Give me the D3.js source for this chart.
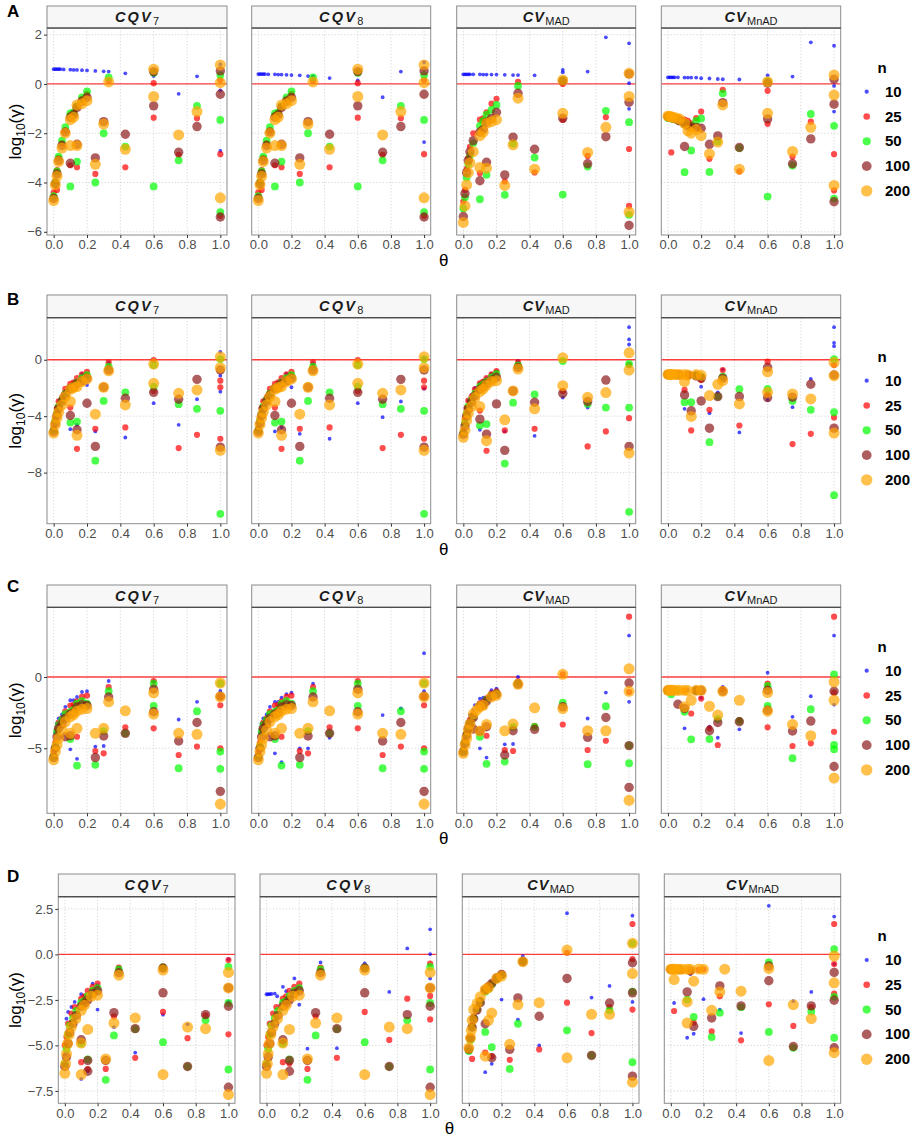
<!DOCTYPE html>
<html><head><meta charset="utf-8">
<script src="https://cdn.jsdelivr.net/npm/d3@7"></script>
<style>
body{margin:0;background:#fff;}
svg{font-family:"Liberation Sans",Arial,Helvetica,sans-serif;}
</style></head><body>
<svg id="chart" width="913" height="1137"></svg>
<script>
// ---------------- DATA ----------------
const nLevels = ["10","25","50","100","200"];
const facetTitles = [["CQV","7"],["CQV","8"],["CV","MAD"],["CV","MnAD"]];
const rowLabels = ["A","B","C","D"];
const thetaTicks = [0,0.2,0.4,0.6,0.8,1.0];
const yTicksA = [2,0,-2,-4,-6];
const yTicksB = [0,-4,-8];
const yTicksC = [0,-5];
const yTicksD = [2.5,0,-2.5,-5,-7.5];

// each panel: [n=10, n=25, n=50, n=100, n=200], points are [theta, log10(gamma)]
const A_CQV7 = [
 [[0,.6],[.01,.6],[.02,.6],[.03,.6],[.04,.6],[.06,.59],[.1,.58],[.12,.57],[.14,.57],[.17,.56],[.2,.55],[.25,.53],[.3,.51],[.33,.5],[.43,.43],[.6,.32],[.75,-.4],[.86,.31],[1,-2.72],[1,-.26],[1,.8]],
 [[0,-4.4],[.01,-3.95],[.02,-3.5],[.03,-3.0],[.05,-2.4],[.07,-1.9],[.1,-1.25],[.12,-1.15],[.14,-.95],[.17,-.6],[.2,-.4],[.02,-4.3],[.1,-3.3],[.14,-3.38],[.25,-3.65],[.33,.12],[.43,-3.38],[.6,.03],[.6,-1.37],[.75,-2.88],[.86,-1.39],[1,.16],[1,-2.85],[1,-5.35]],
 [[0,-4.55],[.01,-4.0],[.02,-3.55],[.03,-2.95],[.05,-2.3],[.07,-1.75],[.1,-1.2],[.12,-1.15],[.14,-.9],[.17,-.55],[.2,-.3],[.1,-4.16],[.14,-3.15],[.25,-4.0],[.3,-2.0],[.33,.27],[.43,-2.54],[.6,.45],[.6,-4.16],[.75,-3.1],[.86,-.89],[1,.36],[1,-1.46],[1,-5.2]],
 [[0,-4.65],[.01,-4.05],[.02,-3.65],[.03,-3.1],[.05,-2.5],[.07,-1.95],[.1,-1.35],[.12,-1.25],[.14,-.95],[.17,-.7],[.2,-.55],[.1,-3.22],[.14,-2.45],[.25,-3.0],[.3,-1.53],[.43,-2.04],[.6,.5],[.6,-.89],[.75,-2.77],[.86,-1.73],[1,.53],[1,-.42],[1,-5.4]],
 [[0,-4.73],[.01,-4.1],[.02,-3.75],[.03,-3.15],[.05,-2.6],[.07,-2.0],[.1,-1.45],[.12,-1.35],[.14,-.85],[.17,-.8],[.2,-.68],[.1,-2.5],[.14,-2.5],[.25,-3.26],[.3,-1.63],[.33,.08],[.43,-2.65],[.6,.6],[.6,-.51],[.75,-2.07],[.86,-1.12],[1,.77],[1,.05],[1,-4.62]]
];
const A_CQV8_n10 = [[0,.4],[.01,.4],[.02,.4],[.03,.4],[.04,.4],[.06,.39],[.1,.39],[.12,.38],[.14,.38],[.17,.37],[.2,.36],[.25,.35],[.3,.32],[.33,.31],[.43,.24],[.6,.14],[.75,-.54],[.86,.5],[1,.88],[1,-2.36],[1,.6]];
const A_MAD = [
 [[0,.39],[.01,.39],[.02,.39],[.03,.39],[.04,.39],[.06,.39],[.1,.39],[.12,.38],[.14,.38],[.17,.38],[.2,.38],[.25,.37],[.3,.36],[.33,.36],[.43,.35],[.6,.57],[.6,.47],[.75,.5],[.86,1.89],[1,1.65],[1,.03],[1,-1.01]],
 [[0,-4.77],[.01,-4.3],[.02,-3.45],[.03,-3.0],[.04,-2.55],[.06,-2.0],[.1,-1.45],[.12,-1.4],[.14,-1.15],[.17,-.8],[.2,-.6],[.33,.08],[.1,-3.62],[.25,-3.96],[.43,-3.59],[.6,0],[.6,-1.46],[.75,-2.92],[.86,-1.35],[1,-2.64],[1,-4.95]],
 [[0,-5.05],[.01,-4.6],[.02,-3.8],[.03,-3.25],[.04,-2.9],[.06,-2.4],[.1,-1.7],[.12,-1.5],[.14,-1.25],[.17,-1.05],[.2,-.85],[.33,-.08],[.1,-4.68],[.14,-3.69],[.25,-4.5],[.3,-2.43],[.43,-2.99],[.6,.14],[.6,-4.49],[.75,-3.35],[.86,-1.09],[1,-1.55],[1,-5.31]],
 [[0,-5.38],[.01,-4.45],[.02,-3.6],[.03,-3.1],[.04,-2.75],[.06,-2.3],[.1,-1.95],[.12,-1.85],[.14,-1.55],[.17,-1.4],[.2,-1.15],[.33,-.38],[.1,-3.93],[.14,-3.18],[.25,-3.69],[.3,-2.16],[.43,-2.65],[.6,.12],[.6,-1.39],[.75,-3.24],[.86,-2.14],[1,.41],[1,-.74],[1,-5.74]],
 [[0,-5.62],[.01,-4.95],[.02,-4.1],[.03,-3.6],[.04,-3.2],[.06,-2.75],[.1,-2.1],[.12,-1.95],[.14,-1.6],[.17,-1.53],[.2,-1.45],[.33,-.58],[.1,-3.39],[.14,-3.42],[.25,-4.12],[.3,-2.47],[.43,-3.46],[.6,.16],[.6,-1.19],[.75,-2.78],[.86,-1.76],[1,.43],[1,-.51],[1,-5.2]]
];
const A_MnAD = [
 [[0,.27],[.01,.27],[.02,.27],[.03,.27],[.04,.27],[.06,.27],[.1,.26],[.12,.26],[.14,.26],[.17,.26],[.2,.23],[.25,.22],[.3,.2],[.33,.19],[.43,.18],[.6,.35],[.75,.3],[.86,1.69],[1,1.55],[1,-.08],[1,-1.12]],
 [[0,-1.3],[.01,-1.31],[.02,-1.32],[.03,-1.33],[.05,-1.36],[.07,-1.4],[.1,-1.45],[.12,-1.5],[.14,-1.6],[.17,-1.39],[.2,-1.12],[.02,-2.78],[.25,-3.04],[.33,-.24],[.43,-3.55],[.6,-.28],[.6,-1.62],[.75,-2.95],[.86,-1.53],[1,-2.85],[1,-4.32]],
 [[0,-1.38],[.01,-1.39],[.02,-1.4],[.03,-1.42],[.05,-1.45],[.07,-1.5],[.1,-1.6],[.12,-1.65],[.14,-1.7],[.17,-1.5],[.2,-1.4],[.1,-3.58],[.14,-2.7],[.25,-3.57],[.3,-2.34],[.33,-.38],[.43,-2.6],[.6,.1],[.6,-4.57],[.75,-3.31],[.86,-1.22],[1,-1.7],[1,-4.65]],
 [[0,-1.33],[.01,-1.35],[.02,-1.36],[.03,-1.38],[.05,-1.42],[.07,-1.5],[.1,-1.6],[.12,-1.7],[.14,-1.75],[.17,-1.77],[.2,-1.8],[.1,-2.54],[.25,-2.45],[.3,-2.11],[.33,-.76],[.43,-2.58],[.6,.03],[.6,-1.42],[.75,-3.24],[.86,-2.23],[1,.19],[1,-.82],[1,-4.78]],
 [[0,-1.3],[.01,-1.32],[.02,-1.33],[.03,-1.35],[.05,-1.38],[.07,-1.42],[.1,-1.6],[.12,-1.9],[.14,-2.0],[.17,-1.85],[.2,-2.1],[.25,-2.84],[.3,-2.36],[.33,-.85],[.43,-3.46],[.6,.09],[.6,-1.19],[.75,-2.74],[.86,-1.76],[1,.36],[1,-.45],[1,-4.12]]
];

const B_CQV7 = [
 [[0,-5.0],[.01,-4.4],[.02,-3.8],[.03,-3.2],[.05,-2.6],[.07,-2.2],[.12,-1.6],[.17,-1.0],[.2,-1.79],[.1,-4.92],[.14,-4.61],[.25,-5.08],[.33,-.2],[.43,-5.51],[.6,-3.08],[.75,-4.61],[.86,-2.8],[1,.56],[1,-1.13],[1,-2.26]],
 [[0,-4.85],[.01,-4.14],[.02,-3.44],[.03,-2.95],[.05,-2.68],[.07,-2.07],[.1,-1.7],[.12,-1.6],[.14,-1.3],[.17,-1.04],[.2,-.85],[.1,-3.39],[.14,-6.31],[.25,-4.89],[.33,-.19],[.43,-4.8],[.6,-.02],[.6,-2.21],[.75,-6.26],[.86,-5.32],[1,-1.48],[1,-1.95],[1,-5.6]],
 [[0,-5.0],[.01,-4.35],[.02,-3.8],[.03,-3.3],[.05,-2.85],[.07,-2.4],[.1,-2.0],[.12,-1.85],[.14,-1.6],[.17,-1.3],[.2,-1.1],[.1,-4.45],[.14,-4.38],[.25,-7.15],[.3,-2.92],[.33,-.49],[.43,-2.31],[.6,-.38],[.6,-1.9],[.75,-3.15],[.86,-3.48],[1,.05],[1,-3.62],[1,-10.92]],
 [[0,-5.1],[.01,-4.5],[.02,-3.95],[.03,-3.45],[.05,-2.95],[.07,-2.5],[.1,-2.05],[.12,-1.95],[.14,-1.7],[.17,-1.5],[.2,-1.3],[.1,-3.95],[.14,-4.96],[.2,-3.08],[.25,-6.14],[.3,-1.95],[.33,-.73],[.43,-2.73],[.6,-2.31],[.75,-2.8],[.86,-1.39],[1,-.73],[1,-6.19]],
 [[0,-5.2],[.01,-4.6],[.02,-4.14],[.03,-3.72],[.05,-3.2],[.07,-2.61],[.1,-2.1],[.12,-1.98],[.14,-1.9],[.17,-1.55],[.2,-1.36],[.1,-2.96],[.14,-5.36],[.25,-3.86],[.3,-1.95],[.33,-.78],[.43,-3.2],[.6,-.31],[.6,-1.67],[.75,-2.38],[.86,-2.14],[1,.21],[1,-.56],[1,-6.42]]
];
const B_CQV8_n10 = [[0,-5.0],[.01,-4.4],[.02,-3.8],[.03,-3.2],[.05,-2.6],[.07,-2.2],[.12,-1.6],[.17,-1.0],[.2,-1.95],[.1,-5.08],[.14,-4.8],[.25,-5.25],[.33,-.25],[.43,-5.6],[.6,-3.08],[.75,-4.07],[.86,-2.96],[1,.1],[1,-2.05]];
const B_MAD = [
 [[0,-5.0],[.01,-4.2],[.02,-3.5],[.03,-2.9],[.05,-2.5],[.07,-2.0],[.1,-1.65],[.12,-1.5],[.14,-1.3],[.17,-1.0],[.2,-.8],[.33,-.1],[.1,-4.96],[.25,-5.08],[.43,-5.39],[.6,-2.68],[.75,-3.39],[1,2.31],[1,1.44],[1,1.08]],
 [[0,-5.08],[.01,-4.14],[.02,-3.4],[.03,-2.9],[.05,-2.61],[.07,-2.09],[.1,-1.67],[.12,-1.55],[.14,-1.3],[.17,-1.04],[.2,-.8],[.33,-.19],[.1,-3.6],[.14,-6.45],[.25,-5.01],[.43,-4.89],[.6,-2.21],[.75,-6.14],[.86,-5.08],[1,-.38],[1,-4.14]],
 [[0,-5.2],[.01,-4.5],[.02,-3.8],[.03,-3.3],[.05,-2.85],[.07,-2.4],[.1,-1.9],[.12,-1.75],[.14,-1.55],[.17,-1.25],[.2,-1.0],[.33,-.4],[.1,-4.66],[.14,-4.56],[.25,-7.36],[.3,-3.04],[.43,-2.45],[.6,-.09],[.75,-3.13],[.86,-3.39],[1,-.3],[1,-3.39],[1,-10.78]],
 [[0,-5.3],[.01,-4.7],[.02,-4.0],[.03,-3.5],[.05,-3.0],[.07,-2.55],[.1,-2.1],[.12,-1.95],[.14,-1.7],[.17,-1.45],[.2,-1.25],[.33,-.55],[.1,-4.21],[.14,-5.27],[.2,-3.13],[.25,-6.42],[.3,-2.21],[.43,-3.01],[.6,-2.38],[.75,-2.96],[.86,-1.44],[1,-6.14]],
 [[0,-5.5],[.01,-5.0],[.02,-4.3],[.03,-3.8],[.05,-3.3],[.07,-2.68],[.1,-2.25],[.12,-2.07],[.14,-1.8],[.17,-1.55],[.2,-1.48],[.33,-.66],[.1,-3.32],[.14,-5.74],[.25,-4.26],[.3,-2.21],[.43,-3.48],[.6,.14],[.6,-1.84],[.75,-2.66],[.86,-2.33],[1,.49],[1,-.73],[1,-6.61]]
];
const B_MnAD = [
 [[0,-1.1],[.02,-1.1],[.05,-1.1],[.1,-3.48],[.2,-1.91],[.25,-3.79],[.3,-2.31],[.33,-.7],[.43,-5.15],[.6,-2.85],[.75,-3.36],[.86,-1.36],[1,2.31],[1,1.2],[1,.96]],
 [[0,-1.04],[.01,-1.04],[.02,-1.04],[.03,-1.04],[.05,-1.05],[.07,-1.05],[.12,-1.1],[.14,-1.05],[.17,-1.1],[.2,-1.44],[.1,-2.14],[.14,-5.01],[.25,-3.55],[.33,-.73],[.43,-4.66],[.6,-.14],[.6,-2.45],[.75,-5.98],[.86,-5.25],[1,-.38],[1,-4.09]],
 [[0,-1.05],[.02,-1.05],[.05,-1.06],[.07,-1.07],[.17,-1.1],[.2,-1.2],[.1,-3.01],[.14,-3.01],[.25,-5.84],[.3,-2.61],[.33,-1.2],[.43,-2.09],[.6,-2.07],[.75,-2.92],[.86,-3.55],[1,.05],[1,-3.72],[1,-9.6]],
 [[0,-1.05],[.02,-1.05],[.05,-1.06],[.07,-1.07],[.12,-1.1],[.17,-1.15],[.2,-1.3],[.1,-2.49],[.14,-3.62],[.2,-2.92],[.25,-4.85],[.3,-2.61],[.33,-1.3],[.43,-2.61],[.6,-.54],[.6,-2.68],[.75,-2.66],[.86,-1.74],[1,-1.08],[1,-4.85]],
 [[0,-1.04],[.01,-1.04],[.02,-1.04],[.03,-1.04],[.05,-1.04],[.07,-1.05],[.1,-1.05],[.12,-1.08],[.17,-1.05],[.2,-1.1],[.1,-1.55],[.14,-4.02],[.25,-2.54],[.3,-1.74],[.33,-1.48],[.43,-3.13],[.6,-.85],[.6,-2.31],[.75,-2.42],[.86,-2.78],[1,-.19],[1,-1.13],[1,-5.2]]
];

const C_CQV7 = [
 [[0,-4.9],[.01,-3.9],[.02,-3.26],[.03,-2.9],[.05,-2.63],[.07,-2.09],[.1,-1.63],[.12,-1.63],[.14,-1.4],[.17,-1.05],[.2,-1.0],[.33,-.28],[.1,-5.07],[.14,-5.74],[.25,-4.88],[.3,-4.84],[.6,-.3],[.75,-2.98],[.86,-1.74],[1,-.98]],
 [[0,-5.3],[.01,-4.6],[.02,-3.7],[.03,-3.2],[.05,-2.9],[.07,-2.4],[.1,-2.0],[.12,-1.95],[.14,-1.7],[.17,-1.4],[.2,-1.3],[.14,-4.19],[.25,-5.19],[.3,-5.35],[.33,-.7],[.43,-3.53],[.6,-.28],[.6,-3.6],[.75,-5.47],[.86,-4.88],[1,-1.4],[1,-1.98],[1,-5.0]],
 [[0,-5.58],[.01,-4.88],[.02,-3.84],[.03,-3.37],[.05,-3.02],[.07,-2.6],[.1,-2.44],[.12,-2.3],[.14,-1.86],[.17,-1.7],[.2,-1.86],[.1,-4.35],[.14,-6.21],[.25,-6.16],[.3,-3.79],[.33,-1.0],[.43,-3.95],[.6,-.47],[.6,-2.02],[.75,-6.4],[.86,-2.4],[1,-.45],[1,-5.23],[1,-6.44]],
 [[0,-5.65],[.01,-5.0],[.02,-4.2],[.03,-3.6],[.05,-3.3],[.07,-2.9],[.1,-2.6],[.12,-2.5],[.14,-2.1],[.17,-1.95],[.2,-2.0],[.07,-4.19],[.1,-4.12],[.25,-5.65],[.3,-4.14],[.33,-1.4],[.43,-3.95],[.6,-.86],[.6,-2.44],[.75,-4.49],[.86,-3.19],[1,-1.35],[1,-8.02]],
 [[0,-5.81],[.01,-5.23],[.02,-4.77],[.03,-4.3],[.05,-3.72],[.07,-3.14],[.1,-2.79],[.12,-2.63],[.14,-2.4],[.17,-2.26],[.2,-2.21],[.1,-3.95],[.14,-3.6],[.25,-3.95],[.3,-3.6],[.33,-1.74],[.43,-2.37],[.6,-1.12],[.6,-2.6],[.75,-3.95],[.86,-4.02],[1,-.42],[1,-1.4],[1,-8.91]]
];
const C_CQV8_n10 = [[0,-4.9],[.01,-3.9],[.02,-3.26],[.03,-2.9],[.05,-2.63],[.07,-2.09],[.1,-1.75],[.12,-1.75],[.14,-1.45],[.17,-1.2],[.2,-1.1],[.33,-.47],[.1,-5.35],[.14,-5.98],[.25,-5.0],[.3,-5.0],[.43,-4.26],[.6,-.3],[.75,-2.67],[.86,-2.21],[1,1.67],[1,-1.0]];
const C_MAD = [
 [[0,-4.84],[.01,-4.2],[.02,-3.6],[.03,-3.1],[.04,-2.67],[.06,-2.3],[.07,-1.98],[.1,-1.51],[.12,-1.45],[.17,-.93],[.2,-.81],[.33,0],[.1,-5.0],[.14,-5.65],[.25,-4.72],[.3,-4.7],[.6,-1.9],[.75,-2.91],[.86,-1.09],[1,2.91],[1,-1.74]],
 [[0,-5.1],[.01,-4.5],[.02,-3.9],[.03,-3.4],[.04,-3.0],[.06,-2.6],[.1,-1.85],[.12,-1.75],[.14,-1.5],[.17,-1.15],[.2,-1.0],[.33,-.3],[.14,-4.12],[.25,-5.12],[.3,-5.19],[.43,-3.42],[.6,.19],[.6,-3.33],[.75,-5.12],[.86,-4.47],[1,4.23],[1,-1.05]],
 [[0,-5.2],[.01,-4.6],[.02,-4.0],[.03,-3.55],[.04,-3.2],[.06,-2.8],[.1,-2.0],[.12,-1.9],[.14,-1.6],[.17,-1.3],[.2,-1.15],[.33,-.45],[.1,-4.19],[.14,-6.09],[.25,-5.93],[.3,-3.5],[.43,-3.5],[.6,-1.79],[.75,-6.12],[.86,-2.05],[1,-4.81],[1,-6.05]],
 [[0,-5.25],[.01,-4.65],[.02,-4.1],[.03,-3.6],[.04,-3.25],[.06,-2.85],[.1,-2.05],[.12,-1.95],[.14,-1.7],[.17,-1.35],[.2,-1.2],[.33,-.5],[.06,-3.65],[.1,-3.79],[.14,-3.49],[.25,-5.47],[.3,-3.77],[.43,-3.67],[.6,-2.09],[.75,-4.23],[.86,-2.84],[1,-.42],[1,-4.81],[1,-7.74]],
 [[0,-5.35],[.01,-4.77],[.02,-4.3],[.03,-3.72],[.04,-3.3],[.06,-2.6],[.08,-2.33],[.1,-2.09],[.12,-1.98],[.17,-1.4],[.2,-1.28],[.33,-.51],[.1,-3.79],[.14,-3.33],[.25,-3.77],[.3,-3.3],[.43,-2.16],[.6,.19],[.6,-2.21],[.75,-3.77],[.86,-3.77],[1,.58],[1,-1.0],[1,-8.65]]
];
const C_MnAD = [
 [[0,-.9],[.05,-.9],[.1,-3.6],[.12,-.9],[.2,-1.47],[.25,-3.49],[.3,-4.26],[.33,-.7],[.43,-3.67],[.6,.3],[.75,-2.79],[.86,-1.35],[1,2.91],[1,-1.93]],
 [[0,-.9],[.02,-.9],[.05,-.92],[.1,-.95],[.17,-.95],[.14,-2.56],[.2,-1.51],[.25,-3.6],[.3,-4.77],[.33,-.86],[.43,-3.02],[.6,-.47],[.6,-3.53],[.75,-4.84],[.86,-4.65],[1,4.23],[1,-1.09],[1,-3.84]],
 [[0,-1.0],[.02,-1.21],[.05,-.95],[.1,-2.44],[.17,-.97],[.14,-4.37],[.25,-4.35],[.3,-2.95],[.43,-3.1],[.6,-.63],[.6,-2.02],[.75,-5.7],[.86,-2.26],[1,.19],[1,-4.77],[1,-5.07]],
 [[0,-.92],[.02,-.93],[.06,-1.91],[.1,-2.21],[.17,-.95],[.2,-.95],[.25,-3.77],[.3,-3.19],[.33,-1.0],[.43,-3.14],[.6,-.93],[.6,-2.33],[.75,-3.79],[.86,-3.09],[1,-1.0],[1,-6.28]],
 [[0,-.93],[.01,-.93],[.02,-.93],[.03,-.93],[.05,-.93],[.07,-.93],[.1,-.93],[.12,-.95],[.17,-.93],[.2,-.93],[.1,-2.09],[.14,-1.63],[.25,-2.05],[.3,-2.67],[.33,-1.0],[.43,-1.63],[.6,-1.09],[.6,-2.4],[.75,-3.33],[.86,-4.12],[1,-.35],[1,-1.63],[1,-7.09]]
];

const D_CQV7 = [
 [[.01,-3.53],[.02,-3.16],[.04,-2.89],[.06,-2.61],[.1,-2.19],[.12,-2.3],[.17,-1.6],[.2,-1.69],[0,-5.5],[.1,-6.84],[.14,-6.42],[.2,-3.03],[.3,-3.99],[.33,-.7],[.43,-5.4],[.6,-3.31],[.75,-3.84],[1,-.26],[1,-2.6]],
 [[0,-5.0],[.01,-4.54],[.02,-3.8],[.04,-3.25],[.06,-2.89],[.1,-2.43],[.12,-2.3],[.14,-2.0],[.17,-1.78],[.2,-1.6],[.1,-5.92],[.14,-6.3],[.25,-6.29],[.3,-3.4],[.33,-.72],[.43,-5.68],[.6,-.68],[.6,-3.16],[.75,-4.6],[.86,-3.35],[1,-.31],[1,-4.39]],
 [[0,-6.0],[.01,-5.2],[.02,-4.4],[.03,-3.9],[.05,-3.5],[.07,-3.1],[.1,-2.65],[.12,-2.55],[.14,-2.3],[.17,-2.0],[.2,-1.85],[.1,-4.9],[.14,-5.77],[.25,-6.89],[.3,-4.45],[.33,-.83],[.43,-4.1],[.6,-.72],[.6,-4.82],[.75,-6.16],[.86,-3.62],[1,-.68],[1,-2.67],[1,-6.32]],
 [[0,-6.16],[.01,-5.64],[.02,-4.9],[.03,-4.3],[.05,-3.8],[.07,-3.35],[.1,-2.85],[.12,-2.7],[.14,-2.5],[.17,-2.15],[.2,-2.0],[.1,-4.69],[.14,-5.83],[.14,-6.42],[.25,-5.83],[.3,-3.2],[.33,-1.01],[.43,-4.08],[.6,-.75],[.6,-2.11],[.75,-6.16],[.86,-3.31],[1,-1.84],[1,-2.85],[1,-7.3]],
 [[0,-6.53],[.005,-6.01],[.01,-5.46],[.016,-4.91],[.026,-4.41],[.04,-3.99],[.067,-3.53],[.1,-3.07],[.12,-2.79],[.16,-2.3],[.2,-2.24],[.1,-4.87],[.1,-6.6],[.14,-4.12],[.25,-5.74],[.3,-3.77],[.33,-1.14],[.43,-3.49],[.6,-.86],[.6,-6.6],[.75,-3.99],[.86,-4.08],[1,-.99],[1,-1.84],[1,-7.7]]
];
const D_CQV8_n10 = [[0,-2.19],[.01,-2.19],[.02,-2.18],[.03,-2.17],[.05,-2.15],[.065,-2.3],[.1,-1.78],[.12,-2.02],[.17,-1.32],[.2,-2.76],[.25,-5.18],[.33,-.44],[.43,-5.15],[.6,-.5],[.75,-2.06],[.86,.33],[1,1.38],[1,.02],[1,-1.32]];
const D_CQV8_n25 = [[0,-5.0],[.01,-4.54],[.02,-3.8],[.04,-3.25],[.06,-2.89],[.1,-2.43],[.12,-2.3],[.14,-2.0],[.17,-1.78],[.2,-1.6],[.1,-5.92],[.14,-6.0],[.25,-6.29],[.3,-3.4],[.33,-.72],[.43,-5.68],[.6,-.68],[.6,-3.16],[.75,-4.7],[.86,-2.43],[1,-.5],[1,-2.28],[1,-3.57]];
const D_MAD = [
 [[.02,-4.6],[.05,-3.2],[.1,-6.47],[.14,-6.01],[.2,-2.48],[.3,-3.58],[.33,-.1],[.43,-5.0],[.6,2.26],[.75,-2.37],[.86,-1.73],[1,2.13],[1,-2.61]],
 [[0,-5.3],[.01,-4.6],[.02,-3.9],[.03,-3.4],[.05,-2.9],[.07,-2.5],[.1,-2.0],[.12,-1.85],[.14,-1.6],[.17,-1.3],[.2,-1.05],[.33,-.35],[.02,-5.74],[.1,-5.4],[.14,-5.6],[.25,-5.79],[.43,-5.22],[.6,.09],[.6,-2.65],[.75,-4.32],[.86,-2.9],[1,1.67],[1,-.26],[1,-3.03]],
 [[0,-5.3],[.01,-4.7],[.02,-4.0],[.03,-3.5],[.05,-3.0],[.07,-2.6],[.1,-2.05],[.12,-1.9],[.14,-1.65],[.17,-1.35],[.2,-1.15],[.33,-.38],[.1,-4.26],[.14,-5.09],[.25,-6.29],[.3,-3.81],[.6,-4.17],[.75,-5.55],[.86,-3.07],[1,.61],[1,-2.05],[1,-5.92]],
 [[0,-5.2],[.01,-4.6],[.02,-4.0],[.03,-3.55],[.05,-3.05],[.07,-2.65],[.1,-1.95],[.12,-1.78],[.14,-1.6],[.17,-1.3],[.2,-1.1],[.33,-.4],[.1,-3.81],[.14,-5.68],[.25,-5.22],[.3,-2.39],[.43,-3.4],[.6,-1.32],[.75,-5.55],[.86,-2.67],[1,-.46],[1,-2.11],[1,-6.69]],
 [[0,-5.13],[.01,-4.58],[.015,-4.17],[.02,-3.62],[.03,-3.03],[.05,-2.7],[.07,-2.33],[.1,-1.93],[.12,-1.82],[.17,-1.32],[.2,-1.19],[.33,-.4],[.1,-5.59],[.12,-3.62],[.14,-3.22],[.25,-4.94],[.3,-2.76],[.43,-2.65],[.6,.24],[.6,-5.68],[.75,-3.29],[.86,-3.29],[1,.61],[1,-1.05],[1,-7.02]]
];
const D_MnAD = [
 [[0,-.8],[.02,-2.67],[.1,-4.58],[.12,-1.08],[.14,-4.36],[.2,-2.46],[.3,-3.03],[.43,-4.32],[.6,2.67],[.75,-2.57],[.86,-2.06],[1,2.08],[1,-.53]],
 [[0,-.81],[.03,-.82],[.05,-.85],[.07,-.9],[.12,-.95],[.17,-.85],[.2,-.82],[.02,-3.11],[.14,-3.75],[.25,-4.23],[.3,-2.3],[.43,-4.72],[.6,-2.74],[.75,-3.93],[.86,-2.9],[1,1.67],[1,-.53],[1,-2.15]],
 [[0,-.82],[.05,-.85],[.1,-2.48],[.14,-3.44],[.25,-4.54],[.3,-3.2],[.43,-2.9],[.6,-.44],[.6,-4.26],[.75,-5.13],[.86,-3.13],[1,.29],[1,-2.33],[1,-4.58]],
 [[0,-.82],[.05,-.83],[.1,-2.06],[.12,-.9],[.14,-3.95],[.25,-3.49],[.3,-1.73],[.43,-2.83],[.6,-.64],[.6,-1.45],[.75,-5.06],[.86,-2.83],[1,-.99],[1,-2.52],[1,-5.13]],
 [[0,-.81],[.01,-.81],[.02,-.82],[.03,-.81],[.05,-.82],[.07,-.81],[.1,-.81],[.12,-.82],[.17,-.8],[.2,-.82],[.33,-.81],[.02,-1.38],[.1,-2.61],[.1,-3.77],[.14,-1.47],[.25,-3.07],[.3,-2.06],[.43,-2.02],[.6,-.77],[.6,-5.83],[.75,-2.76],[.86,-3.53],[1,-.09],[1,-1.56],[1,-5.4]]
];
const A_CQV8 = [A_CQV8_n10, ...A_CQV7.slice(1)];
const B_CQV8 = [B_CQV8_n10, ...B_CQV7.slice(1)];
const C_CQV8 = [C_CQV8_n10, ...C_CQV7.slice(1)];
const D_CQV8 = [D_CQV8_n10, D_CQV8_n25, ...D_CQV7.slice(2)];

// ---------------- STYLE / LAYOUT ----------------
const colors = ["#0000FF","#FF0000","#00FF00","#8B1A1A","#FFA500"];
const radii = [1.9,3.1,3.9,4.7,5.5];
const stdX = [[47,227],[251.7,430.7],[456.7,635.7],[661.3,840.7]];
const dX = [[58.3,235],[260,436.7],[462.3,639],[664.3,840.7]];
const minus = s => s.replace("-", "\u2212");
const rows = [
 {lab:"A", stripTop:6, top:28, bottom:235, ydom:[-6.13,2.27], ticks:yTicksA, fmt:d=>minus(d3.format("d")(d)), xs:stdX, panels:[A_CQV7,A_CQV8,A_MAD,A_MnAD], labY:17, leg:67.7},
 {lab:"B", stripTop:295, top:317.7, bottom:523.7, ydom:[-11.62,2.98], ticks:yTicksB, fmt:d=>minus(d3.format("d")(d)), xs:stdX, panels:[B_CQV7,B_CQV8,B_MAD,B_MnAD], labY:305, leg:356.7},
 {lab:"C", stripTop:585, top:607.3, bottom:813.3, ydom:[-9.56,4.89], ticks:yTicksC, fmt:d=>minus(d3.format("d")(d)), xs:stdX, panels:[C_CQV7,C_CQV8,C_MAD,C_MnAD], labY:592, leg:646.7},
 {lab:"D", stripTop:874, top:896.7, bottom:1103.3, ydom:[-8.18,3.17], ticks:yTicksD, fmt:d=>minus(d3.format(".1f")(d)), xs:dX, panels:[D_CQV7,D_CQV8,D_MAD,D_MnAD], labY:882, leg:936}
];

const svg = d3.select("#chart");

rows.forEach((row, ri) => {
  const g = svg.append("g");
  const y = d3.scaleLinear().domain(row.ydom).range([row.bottom, row.top]);
  row.panels.forEach((panel, pi) => {
    const [x0, x1] = row.xs[pi];
    const x = d3.scaleLinear().domain([-0.04, 1.04]).range([x0, x1]);
    const pg = g.append("g");
    pg.append("rect").attr("x", x0).attr("y", row.top).attr("width", x1 - x0).attr("height", row.bottom - row.top).attr("fill", "#fff");
    pg.selectAll(".gx").data(thetaTicks).join("line")
      .attr("x1", d => x(d)).attr("x2", d => x(d)).attr("y1", row.top).attr("y2", row.bottom)
      .attr("stroke", "#cccccc").attr("stroke-width", 0.8).attr("stroke-dasharray", "1.2,2");
    pg.selectAll(".gy").data(row.ticks).join("line")
      .attr("x1", x0).attr("x2", x1).attr("y1", d => y(d)).attr("y2", d => y(d))
      .attr("stroke", "#cccccc").attr("stroke-width", 0.8).attr("stroke-dasharray", "1.2,2");
    pg.append("line").attr("x1", x0).attr("x2", x1).attr("y1", y(0)).attr("y2", y(0))
      .attr("stroke", "#FF0000").attr("stroke-opacity", 0.75).attr("stroke-width", 1.3);
    panel.forEach((series, si) => {
      pg.append("g").selectAll("circle").data(series).join("circle")
        .attr("cx", d => x(d[0])).attr("cy", d => y(d[1])).attr("r", radii[si])
        .attr("fill", colors[si]).attr("fill-opacity", 0.7);
    });
    pg.append("rect").attr("x", x0).attr("y", row.top).attr("width", x1 - x0).attr("height", row.bottom - row.top)
      .attr("fill", "none").attr("stroke", "#8c8c8c").attr("stroke-width", 1);
    pg.append("rect").attr("x", x0).attr("y", row.stripTop).attr("width", x1 - x0).attr("height", row.top - row.stripTop)
      .attr("fill", "#f7f7f7").attr("stroke", "#8c8c8c").attr("stroke-width", 1);
    pg.append("line").attr("x1", x0).attr("x2", x1).attr("y1", row.top).attr("y2", row.top).attr("stroke", "#333").attr("stroke-width", 1.1);
    const t = pg.append("text").attr("x", (x0 + x1) / 2).attr("y", row.stripTop + 15.5).attr("text-anchor", "middle").attr("fill", "#1a1a1a");
    t.append("tspan").text(facetTitles[pi][0]).attr("font-weight", "bold").attr("font-style", "italic").attr("font-size", 14.5).attr("letter-spacing", pi < 2 ? 2.2 : 1.2);
    t.append("tspan").text(facetTitles[pi][1]).attr("font-size", 11).attr("dy", 3.5);
    const ax = pg.append("g").attr("transform", `translate(0,${row.bottom})`)
      .call(d3.axisBottom(x).tickValues(thetaTicks).tickFormat(d3.format(".1f")).tickSize(3).tickPadding(2));
    ax.select(".domain").remove();
    ax.selectAll("line").attr("stroke", "#333");
    ax.selectAll("text").attr("fill", "#4d4d4d").attr("font-size", 13).attr("font-family", "Liberation Sans, Arial, sans-serif");
    if (pi === 0) {
      const ay = pg.append("g").attr("transform", `translate(${x0},0)`)
        .call(d3.axisLeft(y).tickValues(row.ticks).tickFormat(row.fmt).tickSize(3).tickPadding(2));
      ay.select(".domain").remove();
      ay.selectAll("line").attr("stroke", "#333");
      ay.selectAll("text").attr("fill", "#4d4d4d").attr("font-size", 13).attr("font-family", "Liberation Sans, Arial, sans-serif");
    }
  });
  g.append("text").attr("x", 7).attr("y", row.labY).text(row.lab).attr("font-weight", "bold").attr("font-size", 17).attr("fill", "#000");
  const cy = (row.top + row.bottom) / 2;
  const yt = g.append("text").attr("transform", `translate(21,${cy}) rotate(-90)`).attr("text-anchor", "middle").attr("font-size", 17).attr("fill", "#000");
  yt.append("tspan").text("log");
  yt.append("tspan").text("10").attr("font-size", 12).attr("dy", 4);
  yt.append("tspan").text("(\u03B3)").attr("dy", -4);
  const xc = (row.xs[0][0] + row.xs[3][1]) / 2;
  g.append("text").attr("x", xc).attr("y", row.bottom + 31).attr("text-anchor", "middle").attr("font-size", 17).attr("fill", "#000").text("\u03B8");
  const lg = g.append("g");
  lg.append("text").attr("x", 882).attr("y", row.leg + 5).attr("text-anchor", "middle").attr("font-size", 15).attr("font-weight", "bold").text("n");
  nLevels.forEach((n, i) => {
    const yy = row.leg + 24 + i * 24.8;
    lg.append("circle").attr("cx", 866.7).attr("cy", yy).attr("r", radii[i] + 0.2).attr("fill", colors[i]).attr("fill-opacity", 0.7);
    lg.append("text").attr("x", 885).attr("y", yy + 5).attr("font-size", 15).attr("font-weight", "bold").text(n);
  });
});
</script>
</body></html>
